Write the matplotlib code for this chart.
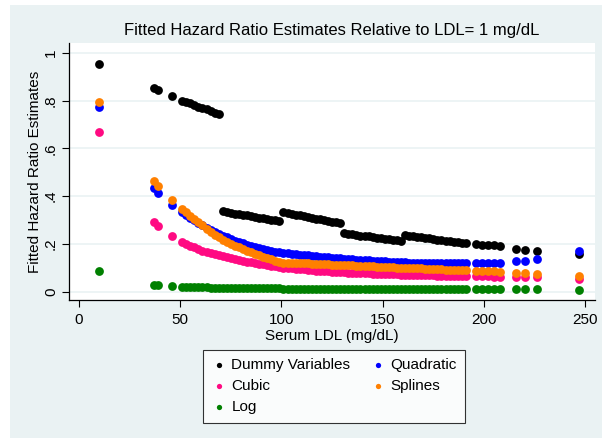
import matplotlib
matplotlib.use("Agg")
import matplotlib.pyplot as plt
from matplotlib.patches import Rectangle

plt.rcParams['font.family'] = ['Liberation Sans', 'DejaVu Sans']

# LDL levels (mg/dL)
ldl_head = [10, 37, 39, 46]
ldl_mid = [51, 53, 55, 57, 59, 61, 63, 65, 67, 69, 71, 73, 75, 77, 79, 81, 83, 85,
           87, 89, 91, 93, 95, 97, 99, 101, 103, 105, 107, 109, 111, 113, 115, 117,
           119, 121, 123, 125, 127, 129, 131, 133, 135, 137, 139, 141, 143, 145, 147,
           149, 151, 153, 155, 157, 159, 161, 163, 165, 167, 169, 171, 173, 175, 177,
           179, 181, 183, 185, 187, 189, 191]
ldl_tail = [196, 199, 202, 205, 208, 216, 220, 226, 247]
ldl = ldl_head + ldl_mid + ldl_tail

# fitted hazard ratios
dummy = [0.955, 0.853, 0.845, 0.820,
         0.800, 0.794, 0.788, 0.781, 0.775, 0.769, 0.763, 0.756, 0.750, 0.744,
         0.336, 0.333, 0.330, 0.327, 0.325, 0.322, 0.319, 0.316, 0.313, 0.310,
         0.307, 0.305, 0.302, 0.299, 0.296,
         0.332, 0.329, 0.326, 0.322, 0.319, 0.316, 0.313, 0.310, 0.306, 0.303,
         0.300, 0.297, 0.293, 0.290, 0.287,
         0.244, 0.242, 0.240, 0.237, 0.235, 0.233, 0.231, 0.229, 0.226, 0.224,
         0.222, 0.220, 0.218, 0.215, 0.213,
         0.237, 0.235, 0.232, 0.230, 0.228, 0.225, 0.223, 0.221, 0.218, 0.216,
         0.214, 0.211, 0.209, 0.207, 0.204, 0.202,
         0.198, 0.197, 0.196, 0.194, 0.189, 0.180, 0.175, 0.172, 0.158]

quadratic = [0.775, 0.435, 0.415, 0.363,
             0.335, 0.322, 0.310, 0.299, 0.288, 0.278, 0.268, 0.259, 0.250, 0.242,
             0.234, 0.227, 0.220, 0.214, 0.208, 0.202, 0.197, 0.192, 0.187, 0.183,
             0.179, 0.175, 0.171, 0.168, 0.165, 0.163, 0.161, 0.159, 0.157, 0.155,
             0.153, 0.152, 0.150, 0.148, 0.147, 0.145, 0.144, 0.142, 0.141, 0.139,
             0.138, 0.137, 0.135, 0.134, 0.133, 0.132, 0.131, 0.130, 0.129, 0.128,
             0.127, 0.126, 0.125, 0.124, 0.124, 0.123, 0.122, 0.122, 0.121, 0.120,
             0.120, 0.119, 0.119, 0.119, 0.118, 0.118, 0.118, 0.118, 0.118, 0.118,
             0.118,
             0.118, 0.119, 0.120, 0.121, 0.122, 0.127, 0.130, 0.138, 0.170]

cubic = [0.670, 0.293, 0.276, 0.233,
         0.206, 0.199, 0.192, 0.186, 0.179, 0.172, 0.167, 0.162, 0.158, 0.154,
         0.150, 0.146, 0.142, 0.138, 0.134, 0.130, 0.126, 0.123, 0.120, 0.117,
         0.114, 0.111, 0.108, 0.106, 0.103, 0.101, 0.099, 0.097, 0.096, 0.094,
         0.093, 0.091, 0.090, 0.088, 0.087, 0.086, 0.085, 0.084, 0.083, 0.082,
         0.081, 0.080, 0.079, 0.078, 0.078, 0.077, 0.076, 0.075, 0.075, 0.074,
         0.073, 0.073, 0.072, 0.072, 0.071, 0.071, 0.070, 0.070, 0.069, 0.069,
         0.068, 0.068, 0.068, 0.067, 0.067, 0.067, 0.066, 0.066, 0.066, 0.066,
         0.065,
         0.065, 0.064, 0.064, 0.063, 0.063, 0.062, 0.061, 0.060, 0.055]

splines = [0.795, 0.463, 0.444, 0.384,
           0.346, 0.332, 0.318, 0.304, 0.290, 0.277, 0.264, 0.251, 0.239, 0.227,
           0.216, 0.208, 0.200, 0.193, 0.186, 0.178, 0.171, 0.164, 0.158, 0.152,
           0.146, 0.140, 0.135, 0.130, 0.125, 0.122, 0.121, 0.121, 0.120, 0.119,
           0.119, 0.118, 0.117, 0.116, 0.116, 0.115, 0.114, 0.113, 0.113, 0.112,
           0.111, 0.110, 0.110, 0.109, 0.108, 0.107, 0.107, 0.106, 0.105, 0.104,
           0.104, 0.103, 0.102, 0.101, 0.101, 0.100, 0.099, 0.098, 0.098, 0.097,
           0.096, 0.095, 0.095, 0.094, 0.093, 0.092, 0.092, 0.091, 0.090, 0.090,
           0.089,
           0.088, 0.087, 0.086, 0.085, 0.084, 0.078, 0.077, 0.074, 0.066]

log_fit = [0.088, 0.028, 0.027, 0.024,
           0.020, 0.020, 0.019, 0.019, 0.018, 0.018, 0.018, 0.017, 0.017, 0.017,
           0.016, 0.016, 0.016, 0.016, 0.015, 0.015, 0.015, 0.015, 0.015, 0.014,
           0.014, 0.014, 0.014, 0.014, 0.014, 0.013, 0.013, 0.013, 0.013, 0.013,
           0.013, 0.013, 0.013, 0.013, 0.013, 0.013, 0.013, 0.013, 0.013, 0.013,
           0.012, 0.012, 0.012, 0.012, 0.012, 0.012, 0.012, 0.012, 0.012, 0.012,
           0.012, 0.012, 0.012, 0.012, 0.012, 0.011, 0.011, 0.011, 0.011, 0.011,
           0.011, 0.011, 0.011, 0.011, 0.011, 0.011, 0.011, 0.011, 0.011, 0.011,
           0.011,
           0.010, 0.010, 0.010, 0.010, 0.010, 0.009, 0.009, 0.009, 0.008]

series = [("Dummy Variables", dummy, "#000000"),
          ("Quadratic", quadratic, "#0000FF"),
          ("Cubic", cubic, "#FF0A82"),
          ("Splines", splines, "#FF8000"),
          ("Log", log_fit, "#008000")]

x_ticks = [0, 50, 100, 150, 200, 250]
y_ticks = [0, 0.2, 0.4, 0.6, 0.8, 1.0]
y_tick_labels = ["0", ".2", ".4", ".6", ".8", "1"]

bg = "#EAF2F3"
W, H = 602, 438

fig = plt.figure(figsize=(W / 100, H / 100), dpi=100, facecolor="white")
# stata graph region (thin white strip on the left/top edge)
fig.patches.append(Rectangle((10 / W, 0), 1 - 10 / W, 1 - 5 / H, transform=fig.transFigure,
                             facecolor=bg, edgecolor="none", zorder=-10))

ax = fig.add_axes([69 / W, 1 - 300 / H, (595 - 69) / W, (300 - 43) / H])
ax.set_facecolor("white")

handles = {}
for name, vals, col in series:
    handles[name] = ax.scatter(ldl, vals, s=40, color=col, linewidths=0, label=name, zorder=3)

ax.set_xlim(-4.9, 254.8)
ax.set_ylim(-0.035, 1.041)
ax.set_xticks(x_ticks)
ax.set_yticks(y_ticks)
ax.set_yticklabels(y_tick_labels, rotation=90, va="center")
ax.tick_params(labelsize=11, length=5, width=0.8, color="black", pad=3)
ax.tick_params(axis="x", pad=4)
ax.grid(axis="y", color=bg, linewidth=1.2, zorder=0)
ax.set_axisbelow(True)

for s in ["top", "right"]:
    ax.spines[s].set_visible(False)
ax.spines["left"].set_linewidth(0.9)
ax.spines["bottom"].set_linewidth(0.9)

ax.set_xlabel("Serum LDL (mg/dL)", fontsize=11, labelpad=2)
ax.set_ylabel("Fitted Hazard Ratio Estimates", fontsize=11, labelpad=1)
ax.set_title("Fitted Hazard Ratio Estimates Relative to LDL= 1 mg/dL", fontsize=12, pad=6)

# stata fills the legend row by row, matplotlib column by column
order = ["Dummy Variables", "Cubic", "Log", "Quadratic", "Splines"]
leg = fig.legend([handles[k] for k in order], order, ncol=2, loc="upper left",
                 bbox_to_anchor=(203 / W, 1 - 350 / H), borderaxespad=0, fontsize=11,
                 frameon=True, fancybox=False, edgecolor="black", markerscale=0.6,
                 handletextpad=0.3, columnspacing=1.3, labelspacing=0.45, borderpad=0.55,
                 handlelength=1.0)
leg.get_frame().set_linewidth(0.8)

fig.savefig("out.png", dpi=100, facecolor="white")
